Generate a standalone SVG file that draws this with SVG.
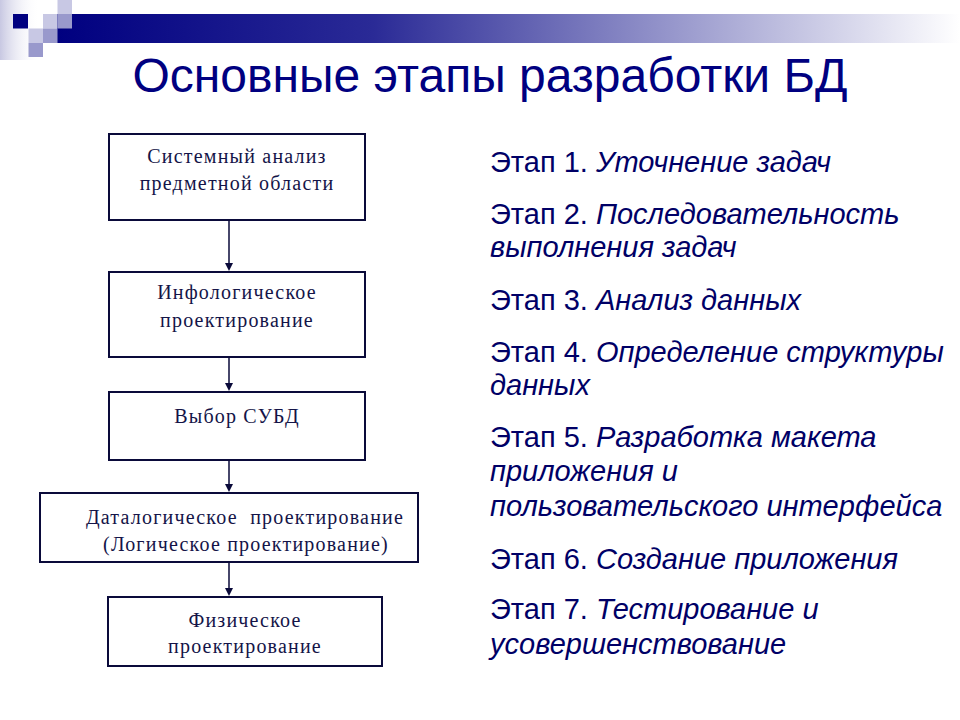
<svg xmlns="http://www.w3.org/2000/svg" width="960" height="720" viewBox="0 0 960 720">
<defs>
<linearGradient id="bar" x1="57" y1="0" x2="960" y2="0" gradientUnits="userSpaceOnUse">
<stop offset="0" stop-color="#000080"/>
<stop offset="0.35" stop-color="#2a2a96"/>
<stop offset="1" stop-color="#ffffff"/>
</linearGradient>
<linearGradient id="side" x1="0" y1="0" x2="1" y2="0">
<stop offset="0" stop-color="#c8c8e2"/>
<stop offset="1" stop-color="#ffffff" stop-opacity="0"/>
</linearGradient>
<style>
.box{fill:#ffffff;stroke:#0a0a3a;stroke-width:2}
.bt{font-family:"Liberation Serif","Times New Roman",serif;font-size:20px;letter-spacing:1.2px;fill:#141448;text-anchor:middle}
.conn line{stroke:#0a0a3a;stroke-width:1.5}
.conn path{fill:#0a0a3a}
.st{font-family:"Liberation Sans",Arial,sans-serif;font-size:29px;fill:#000066}
.it{font-style:italic}
.lt{fill:#c8c8e4}
.md{fill:#9999cc}
</style>
</defs>
<rect width="960" height="720" fill="#ffffff"/>
<g id="decor">
<rect x="0" y="0" width="40" height="60" fill="url(#side)"/>
<rect x="57" y="14" width="903" height="29" fill="url(#bar)"/>
<rect x="13" y="14" width="15" height="14.5" fill="#000080"/>
<rect class="lt" x="43" y="14" width="14.5" height="14.5"/>
<rect class="lt" x="57.5" y="0" width="14.5" height="14"/>
<rect class="md" x="57.5" y="14" width="14.5" height="14.5"/>
<rect class="lt" x="28.5" y="28.5" width="14.5" height="14.5"/>
<rect class="md" x="43" y="28.5" width="14.5" height="14.5"/>
<rect class="md" x="28.5" y="43" width="14.5" height="14"/>
</g>
<text id="title" x="490" y="92" font-family="'Liberation Sans',Arial,sans-serif" font-size="48" fill="#000080" text-anchor="middle">Основные этапы разработки БД</text>
<g id="node1">
<rect class="box" x="109" y="134" width="256" height="86"/>
<text class="bt" x="237" y="163">Системный анализ</text>
<text class="bt" x="237" y="190">предметной области</text>
</g>
<g id="node2">
<rect class="box" x="109" y="272" width="256" height="85"/>
<text class="bt" x="237" y="299">Инфологическое</text>
<text class="bt" x="237" y="327">проектирование</text>
</g>
<g id="node3">
<rect class="box" x="109" y="392" width="256" height="68"/>
<text class="bt" x="237" y="423">Выбор СУБД</text>
</g>
<g id="node4">
<rect class="box" x="40" y="493" width="378" height="69"/>
<text class="bt" x="245" y="524" xml:space="preserve">Даталогическое  проектирование</text>
<text class="bt" x="246" y="551">(Логическое проектирование)</text>
</g>
<g id="node5">
<rect class="box" x="108" y="597" width="274" height="69"/>
<text class="bt" x="245" y="627">Физическое</text>
<text class="bt" x="245" y="653">проектирование</text>
</g>
<g class="conn" id="connectors">
<line x1="229" y1="220" x2="229" y2="264"/>
<path d="M225,263 L233,263 L229,271 Z"/>
<line x1="229" y1="357" x2="229" y2="384"/>
<path d="M225,383 L233,383 L229,391 Z"/>
<line x1="229" y1="460" x2="229" y2="485"/>
<path d="M225,484 L233,484 L229,492 Z"/>
<line x1="229" y1="562" x2="229" y2="589"/>
<path d="M225,588 L233,588 L229,596 Z"/>
</g>
<g id="steps" class="st">
<text x="490" y="172">Этап 1. <tspan class="it">Уточнение задач</tspan></text>
<text x="490" y="224">Этап 2. <tspan class="it">Последовательность</tspan></text>
<text x="490" y="257" class="it">выполнения задач</text>
<text x="490" y="310">Этап 3. <tspan class="it">Анализ данных</tspan></text>
<text x="490" y="362">Этап 4. <tspan class="it">Определение структуры</tspan></text>
<text x="490" y="395" class="it">данных</text>
<text x="490" y="447">Этап 5. <tspan class="it">Разработка макета</tspan></text>
<text x="490" y="481" class="it">приложения и</text>
<text x="490" y="516" class="it">пользовательского интерфейса</text>
<text x="490" y="569">Этап 6. <tspan class="it">Создание приложения</tspan></text>
<text x="490" y="619">Этап 7. <tspan class="it">Тестирование и</tspan></text>
<text x="490" y="654" class="it">усовершенствование</text>
</g>
</svg>
